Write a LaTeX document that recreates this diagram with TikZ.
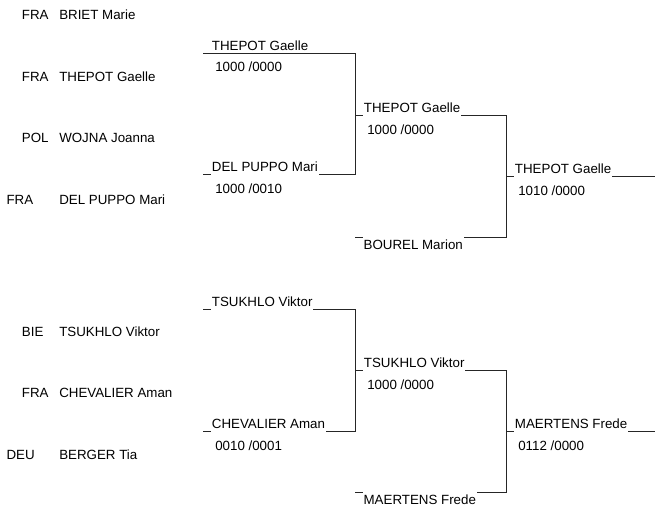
\documentclass[tikz,border=0pt]{standalone}
\usepackage{fontspec}
\setmainfont{Liberation Sans}
\usepackage{tikz}
\usetikzlibrary{positioning, calc}
\tikzset{
  entry/.style={anchor=base west, inner sep=0pt, font=\fontsize{10}{12}\selectfont},
  line/.style={line width=0.6pt, black!85},
}

\begin{document}
\begin{tikzpicture}[x=0.75pt, y=-0.75pt, font=\fontsize{10}{12}\selectfont]
  \tikzset{
    country/.style={entry},
    player/.style={entry},
    winner/.style={entry, fill=white, inner xsep=0.75pt, inner ysep=3pt, xshift=5.75pt, yshift=1.9pt},
    loser/.style={entry, fill=white, inner xsep=0.75pt, inner ysep=3pt, xshift=5.5pt, yshift=-9.3pt},
    score/.style={entry, xshift=9pt, yshift=-14.25pt},
  }
  \useasboundingbox (0,0) rectangle (655,506);

  % Draw list
  \node[country] (c1) at (21.7,20) {FRA};
  \node[player] (p1) at (59,20) {BRIET Marie};
  \node[country] (c2) at (21.7,81.5) {FRA};
  \node[player] (p2) at (59,81.5) {THEPOT Gaelle};
  \node[country] (c3) at (21.7,142.5) {POL};
  \node[player] (p3) at (59,142.5) {WOJNA Joanna};
  \node[country] (c4) at (6.3,204) {FRA};
  \node[player] (p4) at (59,204) {DEL PUPPO Mari};
  \node[country] (c5) at (21.7,336.5) {BIE};
  \node[player] (p5) at (59,336.5) {TSUKHLO Viktor};
  \node[country] (c6) at (21.7,397.5) {FRA};
  \node[player] (p6) at (59,397.5) {CHEVALIER Aman};
  \node[country] (c7) at (6.3,459) {DEU};
  \node[player] (p7) at (59,459) {BERGER Tia};

  % Bracket slots
  \coordinate (s1) at (203,53);
  \coordinate (s2) at (203,174.5);
  \coordinate (s3) at (203,309);
  \coordinate (s4) at (203,431);
  \coordinate (q1) at (355,115);
  \coordinate (q2) at (355,237.5);
  \coordinate (q3) at (355,370);
  \coordinate (q4) at (355,492.5);
  \coordinate (f1) at (506,176);
  \coordinate (f2) at (506,431);
  \coordinate (e1) at (655,176);
  \coordinate (e2) at (655,431);

  % Lines
  \draw[line] (s1) -| (q1 |- s2) -- (s2);
  \draw[line] (s3) -| (q3 |- s4) -- (s4);
  \draw[line] (q1) -| (f1 |- q2) -- (q2);
  \draw[line] (q3) -| (f2 |- q4) -- (q4);
  \draw[line] (f1) -- (e1);
  \draw[line] (f2) -- (e2);

  % Round 1
  \node[winner, fill=none] (w1) at (s1) {THEPOT Gaelle};
  \node[score] (r1) at (s1) {1000 /0000};
  \node[winner] (w2) at (s2) {DEL PUPPO Mari};
  \node[score] (r2) at (s2) {1000 /0010};
  \node[winner] (w3) at (s3) {TSUKHLO Viktor};
  \node[winner] (w4) at (s4) {CHEVALIER Aman};
  \node[score] (r4) at (s4) {0010 /0001};

  % Round 2
  \node[winner] (w5) at (q1) {THEPOT Gaelle};
  \node[score] (r5) at (q1) {1000 /0000};
  \node[loser] (l1) at (q2) {BOUREL Marion};
  \node[winner] (w6) at (q3) {TSUKHLO Viktor};
  \node[score] (r6) at (q3) {1000 /0000};
  \node[loser] (l2) at (q4) {MAERTENS Frede};

  % Round 3
  \node[winner] (w7) at (f1) {THEPOT Gaelle};
  \node[score] (r7) at (f1) {1010 /0000};
  \node[winner] (w8) at (f2) {MAERTENS Frede};
  \node[score] (r8) at (f2) {0112 /0000};

\end{tikzpicture}
\end{document}
